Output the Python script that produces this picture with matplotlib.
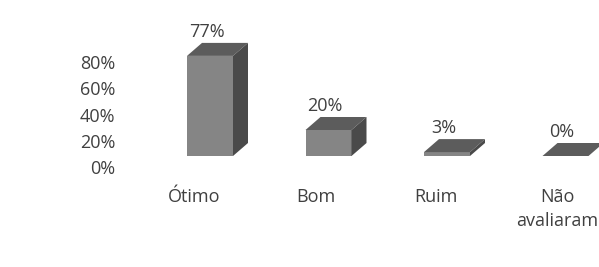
import matplotlib
matplotlib.use("Agg")
import matplotlib.pyplot as plt
from matplotlib.patches import Polygon

categories = ["Ótimo", "Bom", "Ruim", "Não\navaliaram"]
values = [77, 20, 3, 0]
value_labels = ["77%", "20%", "3%", "0%"]
ytick_values = [0, 20, 40, 60, 80]
ytick_labels = ["0%", "20%", "40%", "60%", "80%"]

W, H = 599, 267
fig = plt.figure(figsize=(W / 100, H / 100), dpi=100)
plt.rcParams['font.family'] = ['Open Sans', 'DejaVu Sans']

# main axes (pixel-calibrated data space)
ax = fig.add_axes([0, 0, 1, 1])
x0_px, step_px = 210, 118.5
base_px, px_per = 156, 1.3
ax.set_xlim(-x0_px / step_px, (W - x0_px) / step_px)
ax.set_ylim((base_px - H) / px_per, base_px / px_per)
ax.axis('off')

bw = 46 / step_px
dx = 15 / step_px
dy = 13 / px_per
front_c, top_c, side_c = '#858585', '#5c5c5c', '#4a4a4a'
text_c = '#404040'
fs = 13

xs = list(range(len(values)))
ax.bar(xs, values, width=bw, color=front_c, bottom=0, zorder=2)
for x, v in zip(xs, values):
    l, r = x - bw / 2, x + bw / 2
    top = Polygon([(l, v), (r, v), (r + dx, v + dy), (l + dx, v + dy)],
                  closed=True, facecolor=top_c, edgecolor='none', zorder=3)
    side = Polygon([(r, 0), (r + dx, dy), (r + dx, v + dy), (r, v)],
                   closed=True, facecolor=side_c, edgecolor='none', zorder=3)
    ax.add_patch(top)
    ax.add_patch(side)

for x, v, lab in zip(xs, values, value_labels):
    ax.annotate(lab, (x - 0.03, v + dy), xytext=(0, 1.5), textcoords='offset points',
                ha='center', va='bottom', fontsize=fs, color=text_c)

for x, c in zip(xs, categories):
    ax.text(x - 0.13 + 0.02 * x, (base_px - 188) / px_per, c, ha='center', va='top',
            fontsize=fs, color=text_c, linespacing=1.4)

# y axis (back wall scale)
y0_px, y80_px = 167, 62
ax2 = fig.add_axes([118 / W, (H - y0_px) / H, 0.05, (y0_px - y80_px) / H])
ax2.set_ylim(0, 80)
ax2.set_yticks(ytick_values)
ax2.set_yticklabels(ytick_labels)
ax2.tick_params(axis='y', length=0, pad=2, labelsize=fs, labelcolor=text_c)
ax2.set_xticks([])
for s in ax2.spines.values():
    s.set_visible(False)
ax2.patch.set_alpha(0)

fig.savefig("out.png", dpi=100)
